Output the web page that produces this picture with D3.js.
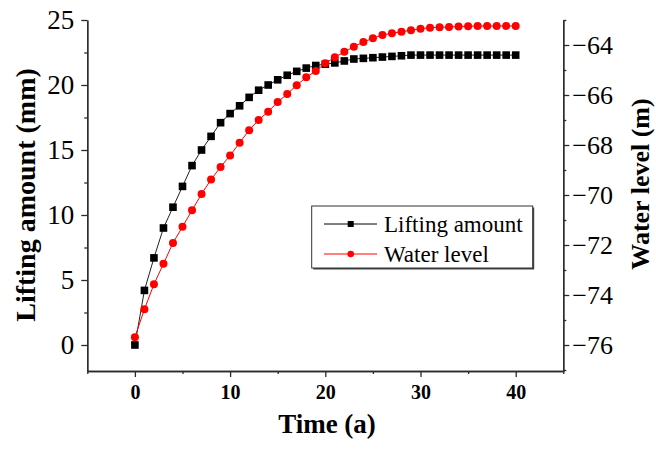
<!DOCTYPE html>
<html>
<head>
<meta charset="utf-8">
<script src="https://cdn.jsdelivr.net/npm/d3@7/dist/d3.min.js"></script>
<style>
html,body{margin:0;padding:0;background:#fff;}
svg{display:block;}
svg text{font-family:"Liberation Serif",serif !important;}
</style>
</head>
<body>
<svg id="chart" width="656" height="450" font-family="Liberation Serif"></svg>
<script>
const time = [0,1,2,3,4,5,6,7,8,9,10,11,12,13,14,15,16,17,18,19,20,21,22,23,24,25,26,27,28,29,30,31,32,33,34,35,36,37,38,39,40];
const lifting = [0,4.2,6.7,9.0,10.6,12.2,13.8,15.0,16.05,17.1,17.8,18.4,19.05,19.6,20.0,20.4,20.75,21.05,21.3,21.5,21.6,21.7,21.85,22.0,22.05,22.1,22.15,22.2,22.25,22.3,22.3,22.3,22.3,22.3,22.3,22.3,22.3,22.3,22.3,22.3,22.3];
const waterLevel = [-75.69,-74.57,-73.57,-72.75,-71.92,-71.27,-70.61,-69.96,-69.38,-68.88,-68.42,-67.91,-67.41,-67.0,-66.67,-66.28,-65.96,-65.61,-65.29,-65.04,-64.73,-64.49,-64.27,-64.07,-63.88,-63.73,-63.6,-63.53,-63.47,-63.41,-63.35,-63.31,-63.29,-63.28,-63.26,-63.25,-63.24,-63.24,-63.24,-63.24,-63.24];
const xTicks = [0,10,20,30,40];
const xMinor = [-5,5,15,25,35,45];
const leftTicks = [0,5,10,15,20,25];
const leftMinor = [2.5,7.5,12.5,17.5,22.5];
const rightTicks = [-76,-74,-72,-70,-68,-66,-64];
const rightMinor = [-77,-75,-73,-71,-69,-67,-65,-63];
const seriesNames = ["Lifting amount","Water level"];
const seriesColors = ["#000000","#ff0000"];

const FONT = "Liberation Serif";
const svg = d3.select("#chart");
const L = 87.3, R = 563.3, T = 20, B = 371;
const x = d3.scaleLinear().domain([-5,45]).range([L,R]);
const yL = d3.scaleLinear().domain([-2,25]).range([B,T]);
const yR = d3.scaleLinear().domain([-77.04,-63]).range([B,T]);
const axisColor = "#2a2a2a";

function styleAxis(g){
  g.attr("font-family",FONT);
  g.select(".domain").attr("stroke",axisColor).attr("stroke-width",1.3);
  g.selectAll(".tick line").attr("stroke",axisColor).attr("stroke-width",1.3);
  g.selectAll(".tick text").attr("fill","#000").attr("font-family",FONT);
}

// X axis
const gx = svg.append("g").attr("transform",`translate(0,${B})`)
  .call(d3.axisBottom(x).tickValues(xTicks).tickSize(6).tickSizeOuter(0).tickPadding(8).tickFormat(d3.format("d")));
styleAxis(gx);
gx.selectAll(".tick text").attr("font-size",20).attr("font-weight","bold");
const gxm = svg.append("g").attr("transform",`translate(0,${B})`)
  .call(d3.axisBottom(x).tickValues(xMinor).tickSize(3).tickSizeOuter(0).tickFormat(""));
styleAxis(gxm);

// Left axis
const gl = svg.append("g").attr("transform",`translate(${L},0)`)
  .call(d3.axisLeft(yL).tickValues(leftTicks).tickSize(6).tickSizeOuter(0).tickPadding(7).tickFormat(d3.format("d")));
styleAxis(gl);
gl.selectAll(".tick text").attr("font-size",27);
const glm = svg.append("g").attr("transform",`translate(${L},0)`)
  .call(d3.axisLeft(yL).tickValues(leftMinor).tickSize(3).tickSizeOuter(0).tickFormat(""));
styleAxis(glm);

// Right axis
const gr = svg.append("g").attr("transform",`translate(${R},0)`)
  .call(d3.axisRight(yR).tickValues(rightTicks).tickSize(6).tickSizeOuter(0).tickPadding(3)
  .tickFormat(d => "\u2212" + Math.abs(d)));
styleAxis(gr);
gr.selectAll(".tick text").attr("font-size",26);
const grm = svg.append("g").attr("transform",`translate(${R},0)`)
  .call(d3.axisRight(yR).tickValues(rightMinor).tickSize(3).tickSizeOuter(0).tickFormat(""));
styleAxis(grm);

// Axis titles
svg.append("text").attr("transform","translate(35,195) rotate(-90)").attr("font-family",FONT)
  .attr("text-anchor","middle").attr("font-size",28).attr("font-weight","bold").text("Lifting amount (mm)");
svg.append("text").attr("transform","translate(649,184) rotate(-90)").attr("font-family",FONT)
  .attr("text-anchor","middle").attr("font-size",26).attr("font-weight","bold").text("Water level (m)");
svg.append("text").attr("x",327).attr("y",433).attr("font-family",FONT)
  .attr("text-anchor","middle").attr("font-size",27).attr("font-weight","bold").text("Time (a)");

// Series
const data1 = time.map((t,i)=>({t, v:lifting[i]}));
const data2 = time.map((t,i)=>({t, v:waterLevel[i]}));

svg.append("path").datum(data1)
  .attr("fill","none").attr("stroke","#222").attr("stroke-width",1)
  .attr("d", d3.line().x(d=>x(d.t)).y(d=>yL(d.v)));
svg.append("g").selectAll("rect").data(data1).join("rect")
  .attr("x",d=>x(d.t)-3.8).attr("y",d=>yL(d.v)-3.8)
  .attr("width",7.6).attr("height",7.6).attr("fill","#000");

svg.append("path").datum(data2)
  .attr("fill","none").attr("stroke","#ff0000").attr("stroke-width",1)
  .attr("d", d3.line().x(d=>x(d.t)).y(d=>yR(d.v)));
svg.append("g").selectAll("circle").data(data2).join("circle")
  .attr("cx",d=>x(d.t)).attr("cy",d=>yR(d.v)).attr("r",4).attr("fill","#ff0000");

// Legend
const lg = svg.append("g").attr("font-family",FONT);
lg.append("rect").attr("x",313.2).attr("y",207.5).attr("width",221).attr("height",62)
  .attr("fill","#444");
lg.append("rect").attr("x",311.7).attr("y",206).attr("width",221).attr("height",62)
  .attr("fill","#fff").attr("stroke","#333").attr("stroke-width",1);
const rows = [224, 254];
seriesNames.forEach((name,i)=>{
  const cy = rows[i];
  lg.append("line").attr("x1",324).attr("x2",377).attr("y1",cy).attr("y2",cy)
    .attr("stroke",seriesColors[i]).attr("stroke-width",1);
  if(i===0){
    lg.append("rect").attr("x",350.7-3).attr("y",cy-3).attr("width",6).attr("height",6).attr("fill",seriesColors[i]);
  } else {
    lg.append("circle").attr("cx",350.7).attr("cy",cy).attr("r",3.3).attr("fill",seriesColors[i]);
  }
  lg.append("text").attr("x",384).attr("y",cy+7.7).attr("font-size",23).attr("fill","#000").attr("font-family",FONT).text(name);
});
</script>
</body>
</html>
